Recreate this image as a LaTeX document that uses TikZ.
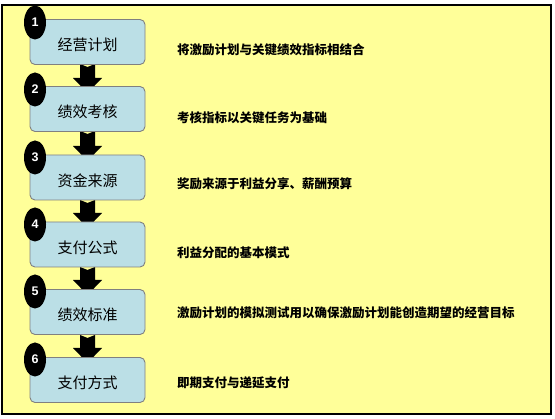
\documentclass[tikz,border=0pt]{standalone}
\usepackage{fontspec}
\usetikzlibrary{shapes.geometric}
\newfontfamily\cjk{Noto Sans CJK SC}
\newfontfamily\numfont{Liberation Sans}
\begin{document}
\begin{tikzpicture}[x=1pt,y=-1pt,
  stepbox/.style={draw=black!50,line width=0.9pt,fill=boxblue,rounded corners=5pt,minimum width=115pt,minimum height=45pt,inner sep=0pt,text height=18pt,text depth=0pt,font=\cjk\fontsize{15}{16}\selectfont},
  numball/.style={fill=black,ellipse,minimum width=22pt,minimum height=34pt,inner sep=0pt,text=white,font=\numfont\bfseries\fontsize{12.5}{12}\selectfont},
  desc/.style={anchor=west,inner sep=0pt,font=\cjk\bfseries\fontsize{12.5}{14}\selectfont},
  blockarrow/.style={fill=black}
]
\definecolor{bgyellow}{HTML}{FFFF99}
\definecolor{boxblue}{HTML}{BBDFE6}
\useasboundingbox (0,0) rectangle (555,419);
\draw[fill=bgyellow,line width=1.2pt] (2,5) rectangle (551,414);

% arrows (behind boxes)
\foreach \t/\n in {64/87,131/155,200/222,267/289,335/357}{
  \fill[blockarrow] (80,\t) -- (87.5,\t+3) -- (95,\t) -- (95,\n-9) -- (102,\n-9) -- (87.5,\n+6) -- (73,\n-9) -- (80,\n-9) -- cycle;
}

\node[stepbox] (b1) at (87.5,42) {经营计划};
\node[stepbox] (b2) at (87.5,109) {绩效考核};
\node[stepbox] (b3) at (87.5,177.5) {资金来源};
\node[stepbox] (b4) at (87.5,244.5) {支付公式};
\node[stepbox] (b5) at (87.5,312) {绩效标准};
\node[stepbox] (b6) at (87.5,380) {支付方式};

\node[numball] (n1) at (35,22.5) {1};
\node[numball] (n2) at (35,89.5) {2};
\node[numball] (n3) at (35,157.5) {3};
\node[numball] (n4) at (35,224.5) {4};
\node[numball] (n5) at (35,291.5) {5};
\node[numball] (n6) at (35,359.5) {6};

\node[desc] (d1) at (177,50) {将激励计划与关键绩效指标相结合};
\node[desc] (d2) at (177,118) {考核指标以关键任务为基础};
\node[desc] (d3) at (177,184) {奖励来源于利益分享、薪酬预算};
\node[desc] (d4) at (177,253) {利益分配的基本模式};
\node[desc] (d5) at (177,313) {激励计划的模拟测试用以确保激励计划能创造期望的经营目标};
\node[desc] (d6) at (177,383) {即期支付与递延支付};
\end{tikzpicture}
\end{document}
